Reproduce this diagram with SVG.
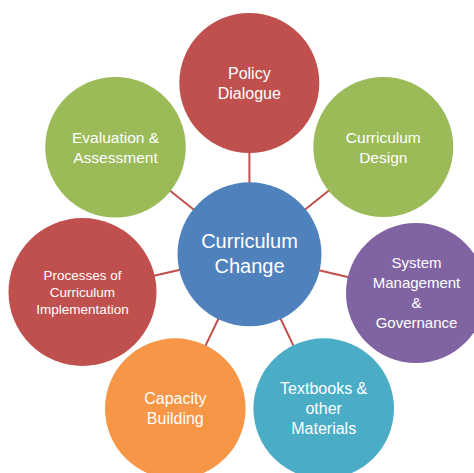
<svg xmlns="http://www.w3.org/2000/svg" width="474" height="473" viewBox="0 0 474 473">
<style>
.t{font-family:"Liberation Sans",Arial,sans-serif;fill:#ffffff;text-anchor:middle}
.c{stroke:#c0504d;stroke-width:2;fill:none}
.red{fill:#c0504d}.grn{fill:#9bbb59}.blu{fill:#4f81bd}.pur{fill:#8064a2}.tea{fill:#4bacc6}.org{fill:#f79646}
</style>
<rect width="474" height="473" fill="#ffffff"/>
<g id="connectors" class="c">
<line x1="249.5" y1="254" x2="249.3" y2="83"/>
<line x1="249.5" y1="254" x2="383.3" y2="147"/>
<line x1="249.5" y1="254" x2="416" y2="293"/>
<line x1="249.5" y1="254" x2="323.7" y2="408.6"/>
<line x1="249.5" y1="254" x2="175.3" y2="408.6"/>
<line x1="249.5" y1="254" x2="82.5" y2="292"/>
<line x1="249.5" y1="254" x2="115.5" y2="147.3"/>
</g>
<g id="node-policy">
<circle class="red" cx="249.3" cy="83" r="70"/>
<text class="t" font-size="16"><tspan x="249.3" y="79">Policy</tspan><tspan x="249.3" y="99">Dialogue</tspan></text>
</g>
<g id="node-design">
<circle class="grn" cx="383.3" cy="147" r="70"/>
<text class="t" font-size="15.5"><tspan x="383.3" y="143">Curriculum</tspan><tspan x="383.3" y="162.5">Design</tspan></text>
</g>
<g id="node-system">
<circle class="pur" cx="416" cy="293" r="70"/>
<text class="t" font-size="15"><tspan x="416.5" y="268">System</tspan><tspan x="416.5" y="288">Management</tspan><tspan x="416.5" y="308">&amp;</tspan><tspan x="416.5" y="328">Governance</tspan></text>
</g>
<g id="node-textbooks">
<circle class="tea" cx="323.7" cy="408.6" r="70.3"/>
<text class="t" font-size="16"><tspan x="323.7" y="394">Textbooks &amp;</tspan><tspan x="323.7" y="414">other</tspan><tspan x="323.7" y="433.5">Materials</tspan></text>
</g>
<g id="node-capacity">
<circle class="org" cx="175.3" cy="408.6" r="70.3"/>
<text class="t" font-size="16"><tspan x="175.3" y="404">Capacity</tspan><tspan x="175.3" y="424">Building</tspan></text>
</g>
<g id="node-processes">
<circle class="red" cx="82.5" cy="292" r="74"/>
<text class="t" font-size="13.5"><tspan x="82.5" y="280">Processes of</tspan><tspan x="82.5" y="297">Curriculum</tspan><tspan x="82.5" y="314">Implementation</tspan></text>
</g>
<g id="node-evaluation">
<circle class="grn" cx="115.5" cy="147.3" r="70.3"/>
<text class="t" font-size="15.5"><tspan x="115.5" y="143">Evaluation &amp;</tspan><tspan x="115.5" y="162.5">Assessment</tspan></text>
</g>
<g id="node-center">
<circle class="blu" cx="249.5" cy="254.3" r="72"/>
<text class="t" font-size="20"><tspan x="249.5" y="248">Curriculum</tspan><tspan x="249.5" y="273">Change</tspan></text>
</g>
</svg>
